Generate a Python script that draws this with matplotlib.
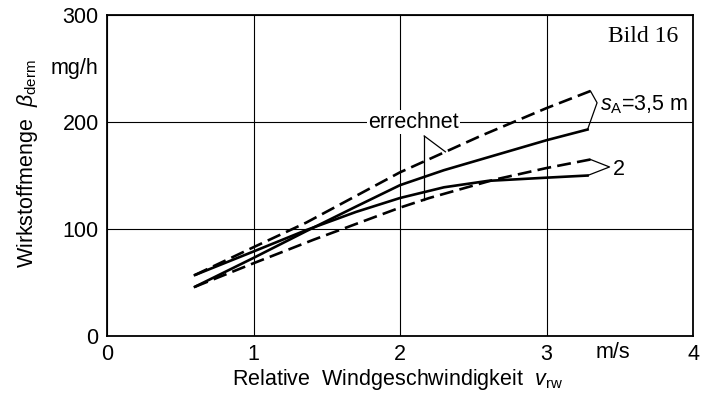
import numpy as np
import matplotlib.pyplot as plt

plt.rcParams['font.family'] = ['Liberation Sans', 'DejaVu Sans']
plt.rcParams['mathtext.fontset'] = 'custom'
plt.rcParams['mathtext.rm'] = 'Liberation Sans'
plt.rcParams['mathtext.it'] = 'Liberation Sans:italic'
plt.rcParams['lines.scale_dashes'] = False

# s_A = 3,5 m errechnet (gestrichelt)
x_35_calc = [0.60, 1.00, 1.36, 2.00, 2.55, 3.00, 3.30]
y_35_calc = [57, 83, 106, 153, 187, 213, 229]
# s_A = 3,5 m gemessen
x_35_meas = [0.60, 1.00, 1.36, 1.70, 2.00, 2.30, 2.55, 3.00, 3.28]
y_35_meas = [46, 73, 98, 121, 141, 155, 165, 183, 193]
# s_A = 2 m errechnet (gestrichelt)
x_2_calc = [0.60, 1.00, 1.41, 2.00, 2.20, 2.64, 3.00, 3.30]
y_2_calc = [46, 68, 90, 120, 129, 146, 157, 165]
# s_A = 2 m gemessen
x_2_meas = [0.60, 1.00, 1.36, 1.70, 2.00, 2.30, 2.60, 3.00, 3.28]
y_2_meas = [57, 79, 99, 116, 129, 139, 145, 148, 150]

xticks = [0, 1, 2, 3, 4]
yticks = [0, 100, 200, 300]

fs = 15.5
dash = (0, (10, 4.5))

fig = plt.figure(figsize=(7.1, 3.96), dpi=100)
ax = fig.add_axes([0.1507, 0.1515, 0.8254, 0.8105])
ax.set_xlim(0, 4)
ax.set_ylim(0, 300)
ax.set_xticks(xticks)
ax.set_yticks(yticks)
ax.set_xticklabels([str(t) for t in xticks], fontsize=fs)
ax.set_yticklabels([str(t) for t in yticks], fontsize=fs)
ax.tick_params(length=0, pad=6)
ax.grid(True, color='black', lw=0.8)
for s in ax.spines.values():
    s.set_linewidth(1.3)

lw = 1.9
ax.plot(x_35_calc, y_35_calc, color='black', lw=lw, ls=dash)
ax.plot(x_35_meas, y_35_meas, color='black', lw=lw)
ax.plot(x_2_calc, y_2_calc, color='black', lw=lw, ls=dash)
ax.plot(x_2_meas, y_2_meas, color='black', lw=lw)

# Beschriftung errechnet mit Hinweislinien
ax.text(2.09, 200, 'errechnet', ha='center', va='center', fontsize=fs,
        bbox=dict(fc='white', ec='none', pad=1))
xk = 2.165
yk = 187
ax.plot([xk, 2.31], [yk, np.interp(2.31, x_35_calc, y_35_calc)], color='black', lw=0.9)
ax.plot([xk, xk], [yk, np.interp(xk, x_2_calc, y_2_calc)], color='black', lw=0.9)

# Klammer s_A = 3,5 m
apex = (3.345, 218)
ax.plot([x_35_calc[-1], apex[0], x_35_meas[-1]],
        [y_35_calc[-1], apex[1], y_35_meas[-1]], color='black', lw=0.9)
ax.text(3.365, 216, r'$s_\mathrm{A}$=3,5 m', ha='left', va='center', fontsize=fs)

# Klammer 2
apex2 = (3.43, 158)
ax.plot([x_2_calc[-1], apex2[0], x_2_meas[-1]],
        [y_2_calc[-1], apex2[1], y_2_meas[-1]], color='black', lw=0.9)
ax.text(3.45, 156, '2', ha='left', va='center', fontsize=fs)

ax.text(3.90, 280, 'Bild 16', ha='right', va='center', fontsize=17,
        family=['Liberation Serif', 'DejaVu Serif'])

# Einheiten
ax.text(-0.015, 250, 'mg/h', ha='right', va='center', fontsize=fs,
        transform=ax.get_yaxis_transform())
ax.text(3.45, -0.02, 'm/s', ha='center', va='top', fontsize=fs,
        transform=ax.get_xaxis_transform())

fig.text(28 / 710, 1 - 164 / 396, r'Wirkstoffmenge  $\beta_\mathrm{derm}$',
         rotation=90, ha='center', va='center', fontsize=fs)
fig.text(397 / 710, 1 - 385 / 396, r'Relative  Windgeschwindigkeit  $v_\mathrm{rw}$',
         ha='center', va='baseline', fontsize=fs)

fig.savefig('out.png', dpi=100)
